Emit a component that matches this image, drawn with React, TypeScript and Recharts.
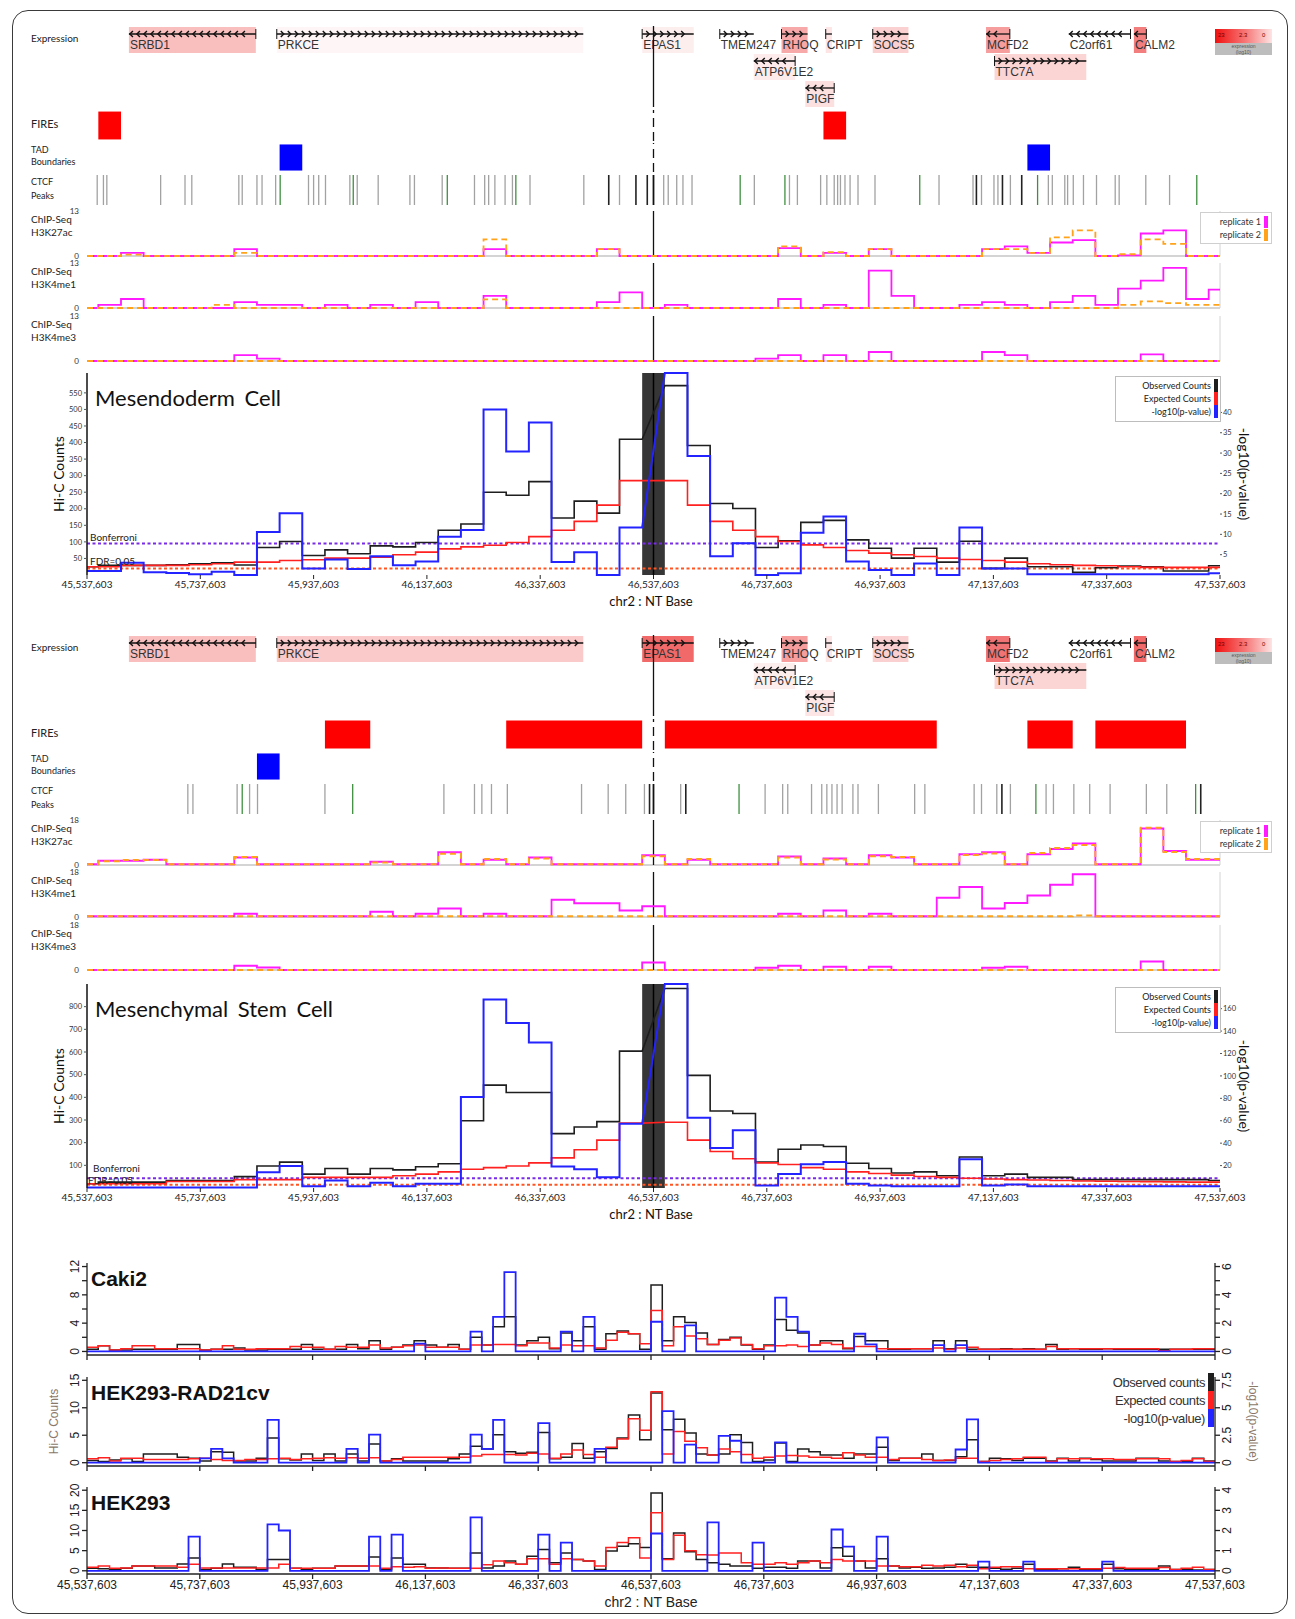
import React from "react";
import {
  ComposedChart,
  LineChart,
  Line,
  XAxis,
  YAxis,
  ReferenceArea,
  ReferenceLine,
} from "recharts";

const W = 1295;
const H = 1619;
const FONT_TOP = "Lato, 'DejaVu Sans', sans-serif";
const FONT_R = "'Liberation Sans', Arial, sans-serif";

// window on chr2, x in kb from 45,537,603
const xTicksKb = [0, 200, 400, 600, 800, 1000, 1200, 1400, 1600, 1800, 2000];
const xTickLabels = [
  "45,537,603", "45,737,603", "45,937,603", "46,137,603", "46,337,603", "46,537,603",
  "46,737,603", "46,937,603", "47,137,603", "47,337,603", "47,537,603",
];
const ANCHOR_KB = 1000;

// genes
const geneNames = ["SRBD1", "PRKCE", "EPAS1", "TMEM247", "RHOQ", "CRIPT", "SOCS5", "MCFD2", "C2orf61", "CALM2", "ATP6V1E2", "TTC7A", "PIGF"];
const geneStartKb = [74, 335, 980, 1117, 1226, 1304, 1387, 1587, 1733, 1848, 1177, 1602, 1268];
const geneEndKb = [298, 876, 1071, 1177, 1272, 1315, 1450, 1629, 1842, 1870, 1250, 1764, 1319];
const geneStrand = [-1, 1, 1, 1, 1, 1, 1, -1, -1, -1, -1, 1, -1];
const geneRow = [0, 0, 0, 0, 0, 0, 0, 0, 0, 0, 1, 1, 2];
const exprMesendo = [0.3, 0.04, 0.08, 0, 0.4, 0.12, 0.22, 0.45, 0, 0.6, 0.1, 0.2, 0.15];
const exprMsc = [0.3, 0.25, 0.7, 0, 0.45, 0.12, 0.22, 0.65, 0, 0.7, 0.08, 0.2, 0.12];

// FIREs and TAD boundaries (kb)
const fireStartMesendo = [20, 1300];
const fireEndMesendo = [60, 1340];
const tadStartMesendo = [340, 1660];
const tadEndMesendo = [380, 1700];
const fireStartMsc = [420, 740, 1020, 1660, 1780];
const fireEndMsc = [500, 980, 1500, 1740, 1940];
const tadStartMsc = [300];
const tadEndMsc = [340];

// CTCF peaks (kb)
const ctcfGrayMesendo = [18, 29, 35, 130, 173, 185, 268, 274, 300, 309, 333, 391, 400, 409, 421, 464, 477, 514, 570, 578, 627, 684, 702, 709, 720, 738, 751, 782, 877, 940, 1018, 1026, 1041, 1052, 1068, 1178, 1240, 1254, 1295, 1306, 1319, 1325, 1330, 1338, 1347, 1361, 1391, 1504, 1564, 1579, 1601, 1608, 1630, 1697, 1704, 1726, 1731, 1741, 1759, 1782, 1815, 1822, 1869, 1911];
const ctcfDarkMesendo = [921, 969, 989, 1000, 1570, 1616, 1650];
const ctcfGreenMesendo = [341, 470, 636, 757, 1153, 1232, 1470, 1678, 1959];
const ctcfGrayMsc = [178, 187, 265, 287, 301, 420, 630, 684, 697, 714, 742, 873, 920, 951, 984, 1048, 1197, 1228, 1237, 1279, 1297, 1306, 1315, 1324, 1333, 1352, 1361, 1397, 1461, 1479, 1566, 1579, 1606, 1630, 1693, 1706, 1742, 1770, 1806, 1870, 1906];
const ctcfDarkMsc = [993, 1000, 1057, 1615, 1966];
const ctcfGreenMsc = [274, 469, 1151, 1675, 1957];

// ChIP-seq, 40 kb bins (51 incl. half bins at the ends)
const k27Rep1Mesendo = [0, 0, 0.9, 0, 0, 0, 0, 2.0, 0, 0, 0, 0, 0, 0, 0, 0, 0, 0, 2.0, 0, 0, 0, 0, 2.0, 0, 0, 0, 0, 0, 0, 0, 2.3, 0, 0.9, 0, 2.0, 0, 0, 0, 0, 2.0, 2.8, 0.9, 3.9, 4.6, 0, 0.2, 6.5, 7.4, 0, 0];
const k27Rep2Mesendo = [0, 0, 0.4, 0, 0, 0, 0, 0.9, 0, 0, 0, 0, 0, 0, 0, 0, 0, 0, 4.8, 0, 0, 0, 0, 2.0, 0, 0, 0, 0, 0, 0, 0, 2.8, 0, 1.1, 0, 2.0, 0, 0, 0, 0, 2.0, 2.0, 0.9, 5.4, 7.4, 0, 0.5, 4.8, 3.5, 0, 0];
const k4me1Rep1Mesendo = [0, 0.9, 2.6, 0, 0, 0, 0, 1.7, 0.9, 0.9, 0, 0.9, 0, 0.9, 0, 1.7, 0, 0, 3.5, 0, 0, 0, 0, 1.7, 4.5, 0, 0.9, 0, 0, 0, 0, 2.6, 0, 0.9, 0, 10.8, 3.5, 0, 0, 0.9, 1.7, 0.9, 0, 1.7, 3.5, 0.9, 5.6, 7.9, 11.6, 2.6, 5.3];
const k4me1Rep2Mesendo = [0, 0, 0, 0, 0, 0, 0.9, 0, 0, 0, 0, 0, 0, 0, 0, 0, 0, 0, 2.5, 0, 0, 0, 0, 0, 0, 0, 0, 0, 0, 0, 0, 0, 0, 0, 0, 0, 0, 0, 0, 0, 0, 0, 0, 0, 0, 0, 0.9, 1.9, 1.4, 0.9, 0.9];
const k4me3Rep1Mesendo = [0, 0, 0, 0, 0, 0, 0, 1.7, 0.7, 0, 0, 0, 0, 0, 0, 0, 0, 0, 0, 0, 0, 0, 0, 0, 0, 0, 0, 0, 0, 0, 0.7, 1.7, 0, 1.7, 0, 2.6, 0, 0, 0, 0, 2.6, 1.7, 0, 0, 0, 0, 0, 1.9, 0, 0, 0];
const k4me3Rep2Mesendo = [0, 0, 0, 0, 0, 0, 0, 0, 0, 0, 0, 0, 0, 0, 0, 0, 0, 0, 0, 0, 0, 0, 0, 0, 0, 0, 0, 0, 0, 0, 0, 0, 0, 0, 0, 0, 0, 0, 0, 0, 0, 0, 0, 0, 0, 0, 0, 0, 0, 0, 0];

const k27Rep1Msc = [0.3, 1.7, 1.7, 2.1, 0.3, 0.3, 0.3, 3.0, 0.3, 0.3, 0.3, 0.3, 0.3, 1.3, 0.3, 0.3, 5.1, 0.3, 2.1, 0.3, 3.0, 0.3, 0.3, 0.3, 0.3, 3.9, 0.3, 2.1, 0.3, 0.3, 0.3, 3.4, 0.3, 2.6, 0.3, 3.9, 3.0, 0.3, 0.3, 4.3, 5.1, 0.3, 4.3, 6.4, 8.6, 0.3, 0.3, 14.6, 5.6, 2.1, 2.1];
const k27Rep2Msc = [0.3, 1.5, 2.0, 2.0, 0.3, 0.3, 0.3, 3.2, 0.3, 0.3, 0.3, 0.3, 0.3, 1.0, 0.3, 0.3, 4.5, 0.3, 2.4, 0.3, 2.6, 0.3, 0.3, 0.3, 0.3, 3.5, 0.3, 2.4, 0.3, 0.3, 0.3, 3.0, 0.3, 2.2, 0.3, 3.5, 3.2, 0.3, 0.3, 4.0, 4.6, 0.3, 4.8, 6.8, 8.0, 0.3, 0.3, 14.9, 5.2, 2.4, 2.4];
const k4me1Rep1Msc = [0.3, 0.3, 0.3, 0.3, 0.3, 0.3, 0.3, 1.3, 0.3, 0.3, 0.3, 0.3, 0.3, 2.1, 0.3, 1.3, 3.4, 0.3, 1.3, 0.3, 0.3, 6.9, 5.5, 5.5, 2.6, 4.3, 0.3, 0.3, 0.3, 0.3, 0.3, 1.3, 0.3, 2.6, 0.3, 1.3, 0.3, 0.3, 7.7, 12.0, 3.4, 5.6, 8.6, 12.9, 17.1, 0.3, 0.3, 0.3, 0.3, 0.3, 0.3];
const k4me1Rep2Msc = [0.3, 0.3, 0.3, 0.3, 0.3, 0.3, 0.3, 0.3, 0.3, 0.3, 0.3, 0.3, 0.3, 0.3, 0.3, 0.3, 0.3, 0.3, 0.3, 0.3, 0.3, 0.3, 0.3, 0.3, 0.3, 0.3, 0.3, 0.3, 0.3, 0.3, 0.3, 0.3, 0.3, 0.3, 0.3, 0.3, 0.3, 0.3, 0.3, 0.3, 0.3, 0.3, 0.3, 0.3, 0.6, 0.3, 0.3, 0.3, 0.3, 0.3, 0.3];
const k4me3Rep1Msc = [0, 0, 0, 0, 0, 0, 0, 1.7, 1.0, 0, 0, 0, 0, 0, 0, 0, 0, 0, 0, 0, 0, 0, 0, 0, 0, 3.0, 0, 0, 0, 0, 0.9, 1.7, 0, 1.3, 0, 1.3, 0, 0, 0, 0, 0.9, 1.3, 0, 0, 0, 0, 0, 3.4, 0, 0, 0];
const k4me3Rep2Msc = [0, 0, 0, 0, 0, 0, 0, 0, 0, 0, 0, 0, 0, 0, 0, 0, 0, 0, 0, 0, 0, 0, 0, 0, 0, 0, 0, 0, 0, 0, 0, 0, 0, 0, 0, 0, 0, 0, 0, 0, 0, 0, 0, 0, 0, 0, 0, 0, 0, 0, 0];

// Hi-C 4C-like profiles, 40 kb bins, anchor bin (index 25) left out
const obsMesendo = [25, 29, 29, 29, 31, 34, 37, 30, 83, 101, 59, 76, 64, 88, 85, 98, 135, 154, 250, 241, 282, 172, 223, 187, 410, null, 572, 391, 216, 201, 83, 103, 159, 165, 106, 81, 51, 81, 39, 102, 20, 51, 25, 25, 8, 22, 27, 25, 12, 12, 28];
const expMesendo = [25, 25, 29, 29, 29, 31, 34, 39, 39, 44, 46, 51, 51, 54, 61, 69, 79, 85, 90, 98, 116, 135, 162, 211, 285, null, 285, 211, 162, 135, 116, 101, 91, 83, 74, 66, 61, 56, 51, 47, 44, 39, 34, 31, 29, 28, 25, 23, 23, 23, 23];
const pvMesendo = [1.0, 1.0, 3.0, 0.7, 0.5, 0.2, 0.8, 0.0, 10.6, 15.2, 1.6, 3.8, 1.5, 4.6, 2.4, 3.3, 9.4, 11.1, 40.7, 30.4, 37.5, 3.2, 5.6, 0.0, 11.7, null, 49.7, 29.3, 4.6, 7.8, 0.0, 0.4, 10.4, 14.4, 3.3, 1.2, 0.0, 2.8, 0.0, 11.7, 1.6, 1.6, 0.2, 0.2, 0.2, 0.2, 0.2, 0.2, 0.2, 0.2, 0.4];
const obsMsc = [19, 26, 26, 26, 33, 33, 33, 50, 97, 114, 61, 86, 61, 86, 80, 94, 107, 297, 454, 421, 421, 240, 269, 293, 604, null, 880, 497, 340, 329, 114, 171, 190, 183, 109, 86, 66, 71, 54, 137, 54, 61, 47, 47, 37, 37, 37, 37, 37, 37, 33];
const expMsc = [19, 19, 19, 19, 29, 29, 29, 37, 37, 37, 47, 47, 47, 47, 54, 61, 71, 83, 90, 97, 111, 133, 169, 211, 286, null, 290, 211, 161, 129, 111, 104, 90, 83, 71, 64, 57, 51, 47, 43, 40, 37, 35, 33, 31, 30, 29, 28, 27, 26, 26];
const pvMsc = [0.5, 0.5, 0.5, 0.5, 0.5, 0.5, 0.5, 0.5, 14.0, 19.7, 1.6, 6.7, 1.6, 4.7, 1.6, 3.9, 3.9, 81.1, 168.2, 147.3, 129.8, 19.1, 16.8, 9.5, 57.4, null, 182.0, 62.7, 35.7, 51.5, 2.2, 12.4, 21.1, 23.1, 3.9, 2.2, 1.6, 1.6, 1.6, 25.6, 2.2, 3.2, 1.6, 1.6, 1.6, 1.6, 1.6, 1.6, 1.6, 1.6, 1.6];

// cell-line profiles, 20 kb bins
const cakiObs = [
  0.3, 0.8, 0.2, 0.2, 0.3, 0.3, 0.3, 0.3, 1.0, 1.0,
  0.2, 0.3, 0.3, 0.5, 0.2, 0.2, 0.3, 0.3, 0.3, 1.0,
  0.3, 0.3, 0.3, 1.0, 0.4, 1.5, 0.3, 0.6, 0.9, 1.5,
  0.9, 0.6, 1.0, 0.3, 2.0, 0.9, 3.5, 4.9, 0.9, 1.5,
  2.0, 0.4, 2.6, 1.5, 3.5, 0.3, 2.5, 2.9, 2.5, 0.3,
  9.4, 1.5, 4.9, 4.1, 2.6, 1.0, 1.7, 2.0, 0.9, 0.3,
  0.9, 4.5, 3.0, 2.6, 0.9, 1.5, 1.5, 0.4, 2.1, 1.5,
  1.5, 0.3, 0.3, 0.4, 0.4, 1.5, 0.4, 1.5, 0.3, 0.3,
  0.3, 0.4, 0.3, 0.4, 0.3, 1.0, 0.3, 0.4, 0.3, 0.3,
  0.4, 0.3, 0.3, 0.3, 0.3, 0.3, 0.3, 0.3, 0.3, 0.3,
];
const cakiExp = [
  0.6, 0.8, 0.2, 0.4, 0.8, 0.8, 0.4, 0.4, 0.4, 0.4,
  0.2, 0.3, 0.8, 0.3, 0.3, 0.4, 0.4, 0.4, 0.7, 0.6,
  0.6, 0.3, 0.7, 0.6, 0.6, 0.9, 0.5, 0.6, 0.8, 0.9,
  0.6, 0.6, 0.6, 0.3, 0.9, 0.9, 1.0, 1.0, 0.8, 1.2,
  1.2, 0.5, 0.9, 0.8, 0.8, 0.5, 1.6, 2.7, 2.5, 1.1,
  5.8, 0.8, 3.5, 2.2, 1.8, 1.0, 1.6, 1.9, 1.0, 0.4,
  0.8, 0.8, 0.9, 0.7, 0.9, 1.2, 1.0, 0.5, 0.7, 0.7,
  0.4, 0.4, 0.4, 0.4, 0.4, 0.5, 0.3, 0.5, 0.6, 0.3,
  0.3, 0.3, 0.3, 0.3, 0.3, 0.7, 0.4, 0.4, 0.4, 0.4,
  0.4, 0.4, 0.4, 0.4, 0.4, 0.1, 0.3, 0.3, 0.4, 0.4,
];
const cakiPv = [
  0, 0, 0, 0, 0, 0, 0, 0, 0, 0,
  0, 0, 0, 0, 0, 0, 0, 0, 0, 0,
  0, 0, 0, 0, 0, 0, 0, 0, 0, 0.55,
  0, 0, 0, 0, 1.4, 0, 2.45, 5.6, 0, 0,
  0, 0, 1.4, 0, 2.45, 0, 0, 0, 0, 0,
  2.1, 0, 0, 1.85, 0, 0, 0, 0, 0, 0,
  0, 3.8, 2.45, 1.4, 0, 0, 0, 0, 1.25, 0.5,
  0, 0, 0, 0, 0, 0.45, 0, 0.45, 0, 0,
  0, 0, 0, 0, 0, 0, 0, 0, 0, 0,
  0, 0, 0, 0, 0, 0, 0, 0, 0, 0,
];
const radObs = [
  0.4, 0.2, 0.5, 0.7, 0.2, 1.6, 1.6, 1.6, 1.0, 0.8,
  0.3, 2.0, 1.9, 0.3, 0.3, 0.8, 4.5, 0.7, 0.5, 1.6,
  0.4, 1.6, 0.3, 1.6, 0.3, 3.4, 0.3, 0.7, 0.3, 0.3,
  0.3, 0.3, 0.7, 1.6, 3.0, 2.5, 5.1, 2.0, 1.7, 1.9,
  5.5, 0.7, 1.0, 3.5, 0.8, 2.0, 2.6, 4.5, 8.7, 4.2,
  12.7, 6.0, 7.9, 5.4, 1.6, 1.4, 1.6, 5.1, 3.7, 0.2,
  0.5, 3.6, 0.2, 2.5, 2.0, 1.4, 1.4, 0.8, 1.6, 1.6,
  2.8, 0.4, 0.8, 0.8, 1.6, 0.4, 0.4, 1.1, 4.2, 0.2,
  0.8, 0.7, 0.4, 0.8, 0.8, 0.3, 0.8, 0.3, 0.8, 0.6,
  0.3, 0.3, 0.3, 0.8, 0.8, 0.3, 0.2, 0.2, 0.8, 0.3,
];
const radExp = [
  0.7, 0.9, 0.3, 0.8, 0.8, 0.6, 0.6, 0.6, 0.6, 0.7,
  0.8, 0.6, 0.4, 0.4, 0.6, 0.6, 0.7, 0.8, 0.6, 0.7,
  0.8, 0.9, 0.8, 0.9, 0.8, 0.9, 0.3, 0.6, 1.0, 1.0,
  1.0, 1.0, 1.0, 1.0, 1.2, 1.5, 1.5, 1.5, 1.4, 1.7,
  1.6, 0.8, 1.6, 2.3, 1.5, 1.0, 2.8, 4.3, 8.0, 5.9,
  12.9, 1.6, 5.7, 3.9, 2.7, 1.4, 2.5, 2.0, 1.5, 0.8,
  1.0, 1.2, 1.3, 1.2, 1.0, 1.0, 0.8, 1.8, 1.4, 1.0,
  1.0, 0.6, 0.8, 0.8, 0.6, 0.4, 0.5, 0.8, 0.8, 0.2,
  0.4, 0.6, 0.7, 1.0, 1.0, 0.2, 0.7, 0.7, 0.7, 0.7,
  0.7, 0.6, 0.6, 0.7, 0.7, 0.7, 0.2, 0.4, 0.7, 0.2,
];
const radPv = [
  0, 0, 0, 0, 0, 0, 0, 0, 0, 0,
  0.4, 1.25, 0.4, 0, 0, 0, 3.9, 0, 0, 0,
  0, 0, 0, 1.25, 0, 2.55, 0, 0, 0, 0,
  0, 0, 0, 0, 2.55, 1.25, 3.9, 0, 0, 0,
  3.6, 0, 0, 0, 0, 1.25, 0, 0, 0, 0,
  0, 4.7, 0, 1.65, 0, 0, 2.45, 2.0, 0, 0,
  0, 1.85, 0, 0, 0, 0, 0, 0, 0, 0,
  2.3, 0, 0, 0, 0, 0, 0, 1.2, 3.95, 0,
  0, 0, 0, 0, 0, 0, 0, 0, 0, 0,
  0, 0, 0, 0, 0, 0, 0, 0, 0, 0,
];
const hekObs = [
  0.6, 0.5, 0.3, 0.6, 1.2, 1.2, 0.7, 0.7, 1.7, 3.2,
  0.3, 0.6, 1.7, 0.9, 0.9, 0.3, 2.8, 2.8, 0.6, 0.3,
  0.6, 0.6, 1.2, 1.2, 1.2, 3.4, 0.3, 3.2, 1.6, 1.6,
  0.7, 0.7, 0.6, 0.6, 4.4, 0.7, 1.2, 2.4, 1.6, 3.6,
  5.3, 2.0, 4.4, 2.8, 2.4, 0.3, 4.9, 6.1, 6.7, 5.8,
  19.3, 3.0, 9.4, 4.7, 2.8, 2.0, 1.6, 1.2, 1.2, 0.6,
  0.9, 0.9, 0.6, 2.4, 2.4, 0.7, 5.7, 3.6, 2.4, 0.7,
  3.0, 1.2, 0.7, 0.9, 0.6, 0.7, 0.9, 1.6, 0.9, 0.9,
  0.6, 0.4, 0.6, 1.6, 0.3, 0.3, 0.5, 0.9, 0.4, 0.4,
  1.6, 0.5, 0.3, 0.3, 0.3, 1.2, 0.3, 0.3, 0.2, 0.3,
];
const hekExp = [
  0.9, 1.2, 0.6, 0.7, 1.2, 1.2, 1.2, 1.2, 0.9, 1.6,
  0.7, 0.7, 0.7, 0.7, 0.7, 0.7, 0.7, 1.6, 0.6, 0.6,
  0.6, 0.6, 1.2, 1.2, 1.2, 1.2, 0.6, 1.0, 0.9, 1.0,
  0.6, 0.7, 0.6, 0.6, 0.6, 1.5, 2.4, 2.0, 1.6, 3.0,
  3.0, 1.6, 3.0, 2.8, 2.4, 1.2, 5.8, 7.0, 8.2, 3.2,
  14.4, 2.8, 8.8, 5.0, 4.0, 3.9, 4.4, 4.4, 2.0, 1.6,
  1.6, 2.0, 1.6, 2.0, 2.4, 2.0, 2.8, 2.4, 2.4, 2.4,
  1.2, 1.2, 1.0, 1.0, 1.4, 1.2, 1.4, 1.0, 1.4, 0.5,
  0.9, 1.0, 1.0, 0.5, 0.5, 0.5, 0.5, 0.5, 0.5, 0.5,
  0.6, 0.8, 0.6, 0.6, 0.6, 0.8, 0.3, 0.6, 0.9, 0.3,
];
const hekPv = [
  0, 0, 0, 0, 0, 0, 0, 0, 0, 1.7,
  0, 0, 0, 0, 0, 0, 2.3, 2.0, 0, 0,
  0, 0, 0, 0, 0, 1.7, 0, 1.8, 0, 0,
  0, 0, 0, 0, 2.65, 0, 0, 0, 0, 0,
  1.8, 0, 1.4, 0, 0, 0, 0, 0, 0, 0,
  1.85, 0, 0, 0, 0, 2.4, 0, 0, 0, 1.4,
  0, 0, 0, 0, 0, 0, 2.05, 1.2, 0, 0,
  1.7, 0, 0, 0, 0, 0, 0, 0, 0, 0.45,
  0, 0, 0, 0.45, 0, 0, 0, 0, 0, 0,
  0.45, 0, 0, 0, 0, 0, 0, 0, 0, 0,
];

const hicLegend = ["Observed Counts", "Expected Counts", "-log10(p-value)"];
const cellLegend = ["Observed counts", "Expected counts", "-log10(p-value)"];
const seriesColors = ["#1e1e1e", "#ff2020", "#2323ff"];
const C_REP1 = "#ff1aff";
const C_REP2 = "#ffa31a";

// ---- helpers ----
const edges40 = (k: number): [number, number] =>
  k === 0 ? [0, 20] : k === 50 ? [1980, 2000] : [40 * k - 20, 40 * k + 20];
const edges20 = (k: number): [number, number] => [20 * k, 20 * k + 20];

function stepRows(edges: (k: number) => [number, number], n: number, series: Record<string, (number | null)[]>) {
  const keys = Object.keys(series);
  const rows: any[] = [];
  for (let k = 0; k < n; k++) {
    if (keys.some((key) => series[key][k] == null)) continue;
    const [a, b] = edges(k);
    const r1: any = { x: a };
    const r2: any = { x: b };
    keys.forEach((key) => {
      r1[key] = series[key][k];
      r2[key] = series[key][k];
    });
    rows.push(r1, r2);
  }
  return rows;
}

function exprColor(v: number) {
  const g = Math.round(255 - v * 215);
  return `rgb(${255 - Math.round(v * 20)},${g},${g})`;
}

const fmtX = (v: number) => xTickLabels[xTicksKb.indexOf(v)] ?? "";
const TRACK_MARGIN = { top: 0, right: 75, bottom: 0, left: 87 };
const hidden = { stroke: "none", dot: false, activeDot: false, isAnimationActive: false };

function GeneShape(props: any) {
  const { x, y, width, height, name, strand, level } = props;
  const ly = y + 8;
  const chev: number[] = [];
  for (let cx = x + 7; cx <= x + width - 3; cx += 7) chev.push(cx);
  const tss = strand > 0 ? x : x + width;
  return (
    <g>
      {level > 0 && <rect x={x} y={y + 1} width={width} height={height - 1} fill={exprColor(level)} />}
      <line x1={x} x2={x + width} y1={ly} y2={ly} stroke="#111" strokeWidth={1.3} />
      {chev.map((cx) => (
        <path
          key={cx}
          d={strand > 0 ? `M${cx - 3},${ly - 3} L${cx},${ly} L${cx - 3},${ly + 3}` : `M${cx - 3},${ly - 3} L${cx - 6},${ly} L${cx - 3},${ly + 3}`}
          stroke="#111"
          strokeWidth={1.4}
          fill="none"
        />
      ))}
      <line x1={tss} x2={tss} y1={ly - 5} y2={ly + 5} stroke="#111" strokeWidth={1} />
      <text x={x + 1} y={y + height - 4} fontSize={12} fontFamily={FONT_R} fill="#333">
        {name}
      </text>
    </g>
  );
}

function GeneTrack({ top, expr }: { top: number; expr: number[] }) {
  const frame = [{ x: 0, y: 0 }, { x: 2000, y: 3 }];
  return (
    <div style={{ position: "absolute", left: 0, top }}>
      <ComposedChart width={W} height={81} data={frame} margin={TRACK_MARGIN}>
        <XAxis type="number" dataKey="x" domain={[0, 2000]} hide />
        <YAxis type="number" domain={[0, 3]} reversed hide />
        <Line dataKey="y" {...hidden} />
        {geneNames.map((name, i) => (
          <ReferenceArea
            key={name}
            x1={geneStartKb[i]}
            x2={geneEndKb[i]}
            y1={geneRow[i]}
            y2={geneRow[i] + 1}
            shape={(p: any) => <GeneShape {...p} name={name} strand={geneStrand[i]} level={expr[i]} />}
          />
        ))}
        <ReferenceLine x={ANCHOR_KB} stroke="#111" strokeWidth={1.3} />
      </ComposedChart>
    </div>
  );
}

function BlockTrack({ top, height, starts, ends, color }: any) {
  return (
    <div style={{ position: "absolute", left: 0, top }}>
      <ComposedChart width={W} height={height} data={[{ x: 0, y: 0 }, { x: 2000, y: 1 }]} margin={TRACK_MARGIN}>
        <XAxis type="number" dataKey="x" domain={[0, 2000]} hide />
        <YAxis type="number" domain={[0, 1]} hide />
        <Line dataKey="y" {...hidden} />
        {starts.map((s: number, i: number) => (
          <ReferenceArea key={s} x1={s} x2={ends[i]} y1={0.05} y2={0.95} fill={color} fillOpacity={1} stroke="none" />
        ))}
        <ReferenceLine x={ANCHOR_KB} stroke="#111" strokeWidth={1.3} strokeDasharray="9 5" />
      </ComposedChart>
    </div>
  );
}

function CtcfTrack({ top, gray, dark, green }: any) {
  return (
    <div style={{ position: "absolute", left: 0, top }}>
      <ComposedChart width={W} height={30} data={[{ x: 0, y: 0 }, { x: 2000, y: 1 }]} margin={TRACK_MARGIN}>
        <XAxis type="number" dataKey="x" domain={[0, 2000]} hide />
        <YAxis type="number" domain={[0, 1]} hide />
        <Line dataKey="y" {...hidden} />
        {gray.map((p: number) => <ReferenceLine key={"g" + p} x={p} stroke="#a2a2a2" strokeWidth={1.3} />)}
        {green.map((p: number) => <ReferenceLine key={"n" + p} x={p} stroke="#3f8f3f" strokeWidth={1.3} />)}
        {dark.map((p: number) => <ReferenceLine key={"d" + p} x={p} stroke="#222" strokeWidth={1.6} />)}
        <ReferenceLine x={ANCHOR_KB} stroke="#111" strokeWidth={1.3} />
      </ComposedChart>
    </div>
  );
}

function ChipTrack({ top, max, rep1, rep2 }: any) {
  const rows = stepRows(edges40, 51, { r1: rep1, r2: rep2 });
  return (
    <div style={{ position: "absolute", left: 0, top: top - 8 }}>
      <LineChart width={W} height={59} data={rows} margin={{ top: 8, right: 75, bottom: 6, left: 75 }}>
        <XAxis type="number" dataKey="x" domain={[0, 2000]} hide />
        <YAxis
          domain={[0, max]}
          ticks={[0, max]}
          interval={0}
          width={12}
          axisLine={false}
          tickLine={false}
          tickMargin={2}
          tick={{ fontSize: 8, fill: "#333", fontFamily: FONT_TOP }}
        />
        <ReferenceLine y={0} stroke="#d4d4d4" strokeWidth={2} />
        <ReferenceLine x={2000} stroke="#d4d4d4" />
        <ReferenceLine x={ANCHOR_KB} stroke="#111" strokeWidth={1.3} />
        <Line dataKey="r1" type="linear" stroke={C_REP1} strokeWidth={1.8} dot={false} activeDot={false} isAnimationActive={false} />
        <Line dataKey="r2" type="linear" stroke={C_REP2} strokeWidth={1.8} strokeDasharray="6 4" dot={false} activeDot={false} isAnimationActive={false} />
      </LineChart>
    </div>
  );
}

function ExprLegend({ top }: { top: number }) {
  return (
    <div style={{ position: "absolute", left: 1215, top, width: 57, height: 26, fontFamily: FONT_R }}>
      <div style={{ position: "relative", height: 14, background: "linear-gradient(to right, #f01010, #f77a7a 55%, #fde4e4)", fontSize: 6, color: "#700" }}>
        <span style={{ position: "absolute", left: 3, top: 3 }}>23</span>
        <span style={{ position: "absolute", left: 24, top: 3 }}>2.3</span>
        <span style={{ position: "absolute", left: 47, top: 3 }}>0</span>
      </div>
      <div style={{ height: 12, background: "#bdbdbd", fontSize: 5, color: "#555", textAlign: "center", lineHeight: "6px" }}>
        expression<br />(log10)
      </div>
    </div>
  );
}

function TopPanel({ dy, expr, fireS, fireE, tadS, tadE, ctcf, chip, chipMax }: any) {
  const lab: React.CSSProperties = { position: "absolute", left: 31, fontFamily: FONT_TOP, color: "#222", lineHeight: "12px", fontSize: 10 };
  const chipNames = ["H3K27ac", "H3K4me1", "H3K4me3"];
  const chipTops = [211, 263, 316];
  return (
    <>
      <div style={{ ...lab, top: 32 + dy }}>Expression</div>
      <div style={{ ...lab, top: 118 + dy, fontSize: 11 }}>FIREs</div>
      <div style={{ ...lab, top: 144 + dy, fontSize: 9 }}>TAD<br />Boundaries</div>
      <div style={{ ...lab, top: 175 + dy, fontSize: 9, lineHeight: "14px" }}>CTCF<br />Peaks</div>
      {chipNames.map((n, i) => (
        <div key={n} style={{ ...lab, top: chipTops[i] + 2 + dy, lineHeight: "13px" }}>ChIP-Seq<br />{n}</div>
      ))}
      <GeneTrack top={26 + dy} expr={expr} />
      <BlockTrack top={110 + dy} height={31} starts={fireS} ends={fireE} color="#ff0000" />
      <BlockTrack top={143 + dy} height={29} starts={tadS} ends={tadE} color="#0000ff" />
      <CtcfTrack top={175 + dy} gray={ctcf[0]} dark={ctcf[1]} green={ctcf[2]} />
      {chip.map((c: any, i: number) => (
        <ChipTrack key={i} top={chipTops[i] + dy} max={chipMax} rep1={c[0]} rep2={c[1]} />
      ))}
      <ExprLegend top={29 + dy} />
      <div style={{ position: "absolute", left: 1200, top: 212 + dy, width: 70, height: 30, border: "1px solid #cfcfcf", background: "#fff", fontFamily: FONT_TOP, fontSize: 9, color: "#333" }}>
        {["replicate 1", "replicate 2"].map((t, i) => (
          <div key={t} style={{ display: "flex", justifyContent: "flex-end", alignItems: "center", height: 13, marginTop: i === 0 ? 2 : 0, paddingRight: 3 }}>
            <span>{t}</span>
            <span style={{ display: "inline-block", width: 4, height: 12, marginLeft: 3, background: i === 0 ? C_REP1 : C_REP2 }} />
          </div>
        ))}
      </div>
    </>
  );
}

function HicPanel({ plotTop, plotH, title, obs, exp, pv, leftMax, rightMax, leftTicks, rightTicks, bonf, fdr, bonfOffset = 3, fdrOffset = 3 }: any) {
  const rows = stepRows(edges40, 51, { obs, exp, pv });
  const tickStyle = { fontSize: 7.5, fill: "#333", fontFamily: FONT_TOP };
  return (
    <>
      <div style={{ position: "absolute", left: 0, top: plotTop - 8 }}>
        <ComposedChart width={W} height={8 + plotH + 20} data={rows} margin={{ top: 8, right: 45, bottom: 0, left: 53 }}>
          <XAxis
            type="number"
            dataKey="x"
            domain={[0, 2000]}
            ticks={xTicksKb}
            interval={0}
            tickFormatter={fmtX}
            axisLine={false}
            tickLine={{ stroke: "#222" }}
            tickSize={4}
            height={20}
            tick={{ fontSize: 10, fill: "#222", fontFamily: FONT_TOP }}
          />
          <YAxis
            yAxisId="left"
            domain={[0, leftMax]}
            ticks={leftTicks}
            interval={0}
            width={34}
            axisLine={{ stroke: "#111", strokeWidth: 1.5 }}
            tickLine={{ stroke: "#555" }}
            tickSize={3}
            tick={tickStyle}
            label={{ value: "Hi-C Counts", angle: -90, position: "insideLeft", offset: 6, style: { textAnchor: "middle", fontSize: 14, fontFamily: FONT_TOP, fill: "#111" } }}
          />
          <YAxis
            yAxisId="right"
            orientation="right"
            domain={[0, rightMax]}
            ticks={rightTicks}
            interval={0}
            width={30}
            axisLine={false}
            tickLine={{ stroke: "#555" }}
            tickSize={2}
            tickMargin={1}
            tick={tickStyle}
            label={{ value: "-log10(p-value)", angle: 90, position: "insideRight", offset: 6, style: { textAnchor: "middle", fontSize: 14, fontFamily: FONT_TOP, fill: "#111" } }}
          />
          <ReferenceArea yAxisId="left" x1={980} x2={1020} fill="#2b2b2b" fillOpacity={0.95} stroke="none" />
          <ReferenceLine yAxisId="left" x={ANCHOR_KB} stroke="#000" strokeWidth={1.5} />
          <ReferenceLine
            yAxisId="left"
            y={bonf}
            stroke="#7a2be6"
            strokeWidth={2}
            strokeDasharray="3 2.5"
            label={{ value: "Bonferroni", position: "insideBottomLeft", offset: bonfOffset, fontSize: 10, fill: "#222", fontFamily: FONT_TOP }}
          />
          <ReferenceLine
            yAxisId="left"
            y={fdr}
            stroke="#ff5522"
            strokeWidth={2}
            strokeDasharray="3 2.5"
            label={{ value: "FDR=0.05", position: "insideBottomLeft", offset: fdrOffset, fontSize: 10, fill: "#222", fontFamily: FONT_TOP }}
          />
          <Line yAxisId="left" dataKey="obs" type="linear" stroke={seriesColors[0]} strokeWidth={1.6} dot={false} activeDot={false} isAnimationActive={false} />
          <Line yAxisId="left" dataKey="exp" type="linear" stroke={seriesColors[1]} strokeWidth={1.6} dot={false} activeDot={false} isAnimationActive={false} />
          <Line yAxisId="right" dataKey="pv" type="linear" stroke={seriesColors[2]} strokeWidth={2} dot={false} activeDot={false} isAnimationActive={false} />
        </ComposedChart>
      </div>
      <div style={{ position: "absolute", left: 95, top: plotTop + 11, fontFamily: FONT_TOP, fontSize: 22, color: "#111", wordSpacing: 4 }}>{title}</div>
      <div style={{ position: "absolute", left: 1115, top: plotTop + 3, width: 104, height: 44, border: "1px solid #bdbdbd", background: "#fff", fontFamily: FONT_TOP, fontSize: 9, color: "#222" }}>
        {hicLegend.map((t, i) => (
          <div key={t} style={{ display: "flex", justifyContent: "flex-end", alignItems: "center", height: 13, marginTop: i === 0 ? 2 : 0, paddingRight: 2 }}>
            <span>{t}</span>
            <span style={{ display: "inline-block", width: 4, height: 13, marginLeft: 3, background: seriesColors[i] }} />
          </div>
        ))}
      </div>
      <div style={{ position: "absolute", left: 551, width: 200, textAlign: "center", top: plotTop + plotH + 18, fontFamily: FONT_TOP, fontSize: 13, color: "#111" }}>
        chr2 : NT Base
      </div>
    </>
  );
}

function RotTick(props: any) {
  const { x, y, payload, labels, side } = props;
  if (!labels.includes(payload.value)) return <g />;
  return (
    <text x={x} y={y} dy={side === "left" ? -1 : 9} transform={`rotate(-90 ${x} ${y})`} textAnchor="middle" fontSize={12} fontFamily={FONT_R} fill="#222">
      {payload.value}
    </text>
  );
}

function CellPanel({ plotTop, plotH, title, obs, exp, pv, lDom, rDom, lTicks, lLabels, rTicks, rLabels, showX, axisLabels }: any) {
  const rows = stepRows(edges20, 100, { obs, exp, pv });
  const xh = showX ? 22 : 8;
  const lineProps = { type: "linear" as const, dot: false, activeDot: false, isAnimationActive: false };
  return (
    <>
      <div style={{ position: "absolute", left: 0, top: plotTop - 8 }}>
        <LineChart width={W} height={8 + plotH + xh} data={rows} margin={{ top: 8, right: 58, bottom: 0, left: 65 }}>
          <XAxis
            type="number"
            dataKey="x"
            domain={[0, 2000]}
            ticks={xTicksKb}
            interval={0}
            height={xh}
            tickSize={5}
            tickMargin={1}
            axisLine={{ stroke: "#222", strokeWidth: 1.3 }}
            tickLine={{ stroke: "#222", strokeWidth: 1.3 }}
            tickFormatter={showX ? fmtX : () => ""}
            tick={{ fontSize: 12, fill: "#222", fontFamily: FONT_R }}
          />
          <YAxis
            yAxisId="left"
            domain={lDom}
            ticks={lTicks}
            interval={0}
            width={22}
            tickSize={5}
            axisLine={{ stroke: "#222", strokeWidth: 1.3 }}
            tickLine={{ stroke: "#222", strokeWidth: 1.3 }}
            tick={(p: any) => <RotTick {...p} labels={lLabels} side="left" />}
            label={axisLabels ? { value: "Hi-C Counts", angle: -90, position: "insideLeft", offset: -11, style: { textAnchor: "middle", fontSize: 12, fontFamily: FONT_R, fill: "#8a7868" } } : undefined}
          />
          <YAxis
            yAxisId="right"
            orientation="right"
            domain={rDom}
            ticks={rTicks}
            interval={0}
            width={22}
            tickSize={5}
            axisLine={{ stroke: "#222", strokeWidth: 1.3 }}
            tickLine={{ stroke: "#222", strokeWidth: 1.3 }}
            tick={(p: any) => <RotTick {...p} labels={rLabels} side="right" />}
            label={axisLabels ? { value: "-log10(p-value)", angle: 90, position: "insideRight", offset: -16, style: { textAnchor: "middle", fontSize: 12, fontFamily: FONT_R, fill: "#8a7868" } } : undefined}
          />
          <Line yAxisId="left" dataKey="obs" stroke={seriesColors[0]} strokeWidth={1.5} {...lineProps} />
          <Line yAxisId="left" dataKey="exp" stroke={seriesColors[1]} strokeWidth={1.5} {...lineProps} />
          <Line yAxisId="right" dataKey="pv" stroke={seriesColors[2]} strokeWidth={1.8} {...lineProps} />
        </LineChart>
      </div>
      <div style={{ position: "absolute", left: 91, top: plotTop + 4, fontFamily: FONT_R, fontWeight: 700, fontSize: 21, color: "#111" }}>{title}</div>
    </>
  );
}

export default function App() {
  return (
    <div style={{ position: "absolute", left: 0, top: 0, width: W, height: H, background: "#fff", overflow: "hidden" }}>
      <div style={{ position: "absolute", left: 12, top: 10, width: 1274, height: 1602, border: "1.5px solid #3a3a3a", borderRadius: 16 }} />

      <TopPanel
        dy={0}
        expr={exprMesendo}
        fireS={fireStartMesendo}
        fireE={fireEndMesendo}
        tadS={tadStartMesendo}
        tadE={tadEndMesendo}
        ctcf={[ctcfGrayMesendo, ctcfDarkMesendo, ctcfGreenMesendo]}
        chip={[[k27Rep1Mesendo, k27Rep2Mesendo], [k4me1Rep1Mesendo, k4me1Rep2Mesendo], [k4me3Rep1Mesendo, k4me3Rep2Mesendo]]}
        chipMax={13}
      />
      <HicPanel
        plotTop={373}
        plotH={202}
        title="Mesendoderm Cell"
        obs={obsMesendo}
        exp={expMesendo}
        pv={pvMesendo}
        leftMax={610}
        rightMax={49.7}
        leftTicks={[50, 100, 150, 200, 250, 300, 350, 400, 450, 500, 550]}
        rightTicks={[5, 10, 15, 20, 25, 30, 35, 40]}
        bonf={95}
        fdr={20}
      />

      <TopPanel
        dy={609}
        expr={exprMsc}
        fireS={fireStartMsc}
        fireE={fireEndMsc}
        tadS={tadStartMsc}
        tadE={tadEndMsc}
        ctcf={[ctcfGrayMsc, ctcfDarkMsc, ctcfGreenMsc]}
        chip={[[k27Rep1Msc, k27Rep2Msc], [k4me1Rep1Msc, k4me1Rep2Msc], [k4me3Rep1Msc, k4me3Rep2Msc]]}
        chipMax={18}
      />
      <HicPanel
        plotTop={984}
        plotH={204}
        title="Mesenchymal Stem Cell"
        obs={obsMsc}
        exp={expMsc}
        pv={pvMsc}
        leftMax={900}
        rightMax={182}
        leftTicks={[100, 200, 300, 400, 500, 600, 700, 800]}
        rightTicks={[20, 40, 60, 80, 100, 120, 140, 160]}
        bonf={43}
        fdr={14}
        bonfOffset={6}
        fdrOffset={1}
      />

      <CellPanel
        plotTop={1263}
        plotH={92}
        title="Caki2"
        obs={cakiObs}
        exp={cakiExp}
        pv={cakiPv}
        lDom={[-0.5, 12.5]}
        rDom={[-0.25, 6.25]}
        lTicks={[0, 2, 4, 6, 8, 10, 12]}
        lLabels={[0, 4, 8, 12]}
        rTicks={[0, 1, 2, 3, 4, 5, 6]}
        rLabels={[0, 2, 4, 6]}
        showX={false}
      />
      <CellPanel
        plotTop={1377}
        plotH={89}
        title="HEK293-RAD21cv"
        obs={radObs}
        exp={radExp}
        pv={radPv}
        lDom={[-0.6, 15.6]}
        rDom={[-0.3, 7.8]}
        lTicks={[0, 5, 10, 15]}
        lLabels={[0, 5, 10, 15]}
        rTicks={[0, 2.5, 5, 7.5]}
        rLabels={[0, 2.5, 5, 7.5]}
        showX={false}
        axisLabels
      />
      <CellPanel
        plotTop={1487}
        plotH={87}
        title="HEK293"
        obs={hekObs}
        exp={hekExp}
        pv={hekPv}
        lDom={[-0.8, 20.8]}
        rDom={[-0.16, 4.16]}
        lTicks={[0, 5, 10, 15, 20]}
        lLabels={[0, 5, 10, 15, 20]}
        rTicks={[0, 1, 2, 3, 4]}
        rLabels={[0, 1, 2, 3, 4]}
        showX
      />
      <div style={{ position: "absolute", left: 1060, top: 1373, width: 154, fontFamily: FONT_R, fontSize: 13, color: "#333", letterSpacing: -0.4 }}>
        {cellLegend.map((t, i) => (
          <div key={t} style={{ display: "flex", justifyContent: "flex-end", alignItems: "center", height: 18 }}>
            <span>{t}</span>
            <span style={{ display: "inline-block", width: 6, height: 18, marginLeft: 3, background: seriesColors[i] }} />
          </div>
        ))}
      </div>
      <div style={{ position: "absolute", left: 551, width: 200, textAlign: "center", top: 1595, fontFamily: FONT_R, fontSize: 14, lineHeight: "15px", color: "#222" }}>
        chr2 : NT Base
      </div>
    </div>
  );
}
